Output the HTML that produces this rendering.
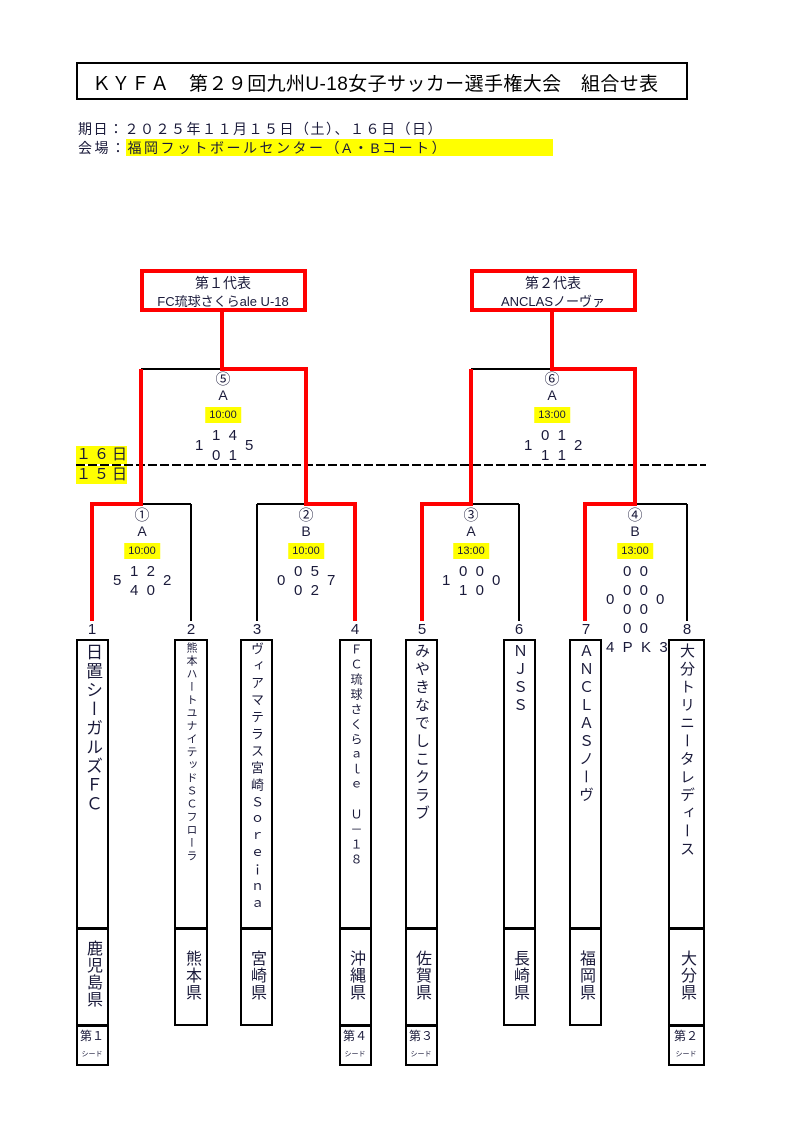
<!DOCTYPE html>
<html><head><meta charset="utf-8"><style>
body{margin:0;background:#fff;}
#p{position:relative;width:804px;height:1143px;overflow:hidden;font-family:"Liberation Sans","Noto Sans CJK JP",sans-serif;color:#1a1a3a;}
.a{position:absolute;white-space:nowrap;}
.c{position:absolute;transform:translateX(-50%);white-space:nowrap;text-align:center;}
.y{background:#ffff00;}
.v{position:absolute;writing-mode:vertical-rl;text-orientation:upright;white-space:nowrap;}
.box{position:absolute;border:2px solid #000;box-sizing:border-box;}
.t{font-size:11px;background:#ffff00;padding:2px 4px;}
.s{font-size:15px;}
</style></head><body><div id="p">
<svg width="804" height="1143" style="position:absolute;left:0;top:0">
<g stroke="#000" stroke-width="2" fill="none">
<line x1="141" y1="369" x2="222" y2="369"/>
<line x1="471" y1="369" x2="552" y2="369"/>
<line x1="141" y1="504" x2="191" y2="504"/><line x1="191" y1="504" x2="191" y2="621"/>
<line x1="257" y1="504" x2="306" y2="504"/><line x1="257" y1="504" x2="257" y2="621"/>
<line x1="471" y1="504" x2="519" y2="504"/><line x1="519" y1="504" x2="519" y2="621"/>
<line x1="635" y1="504" x2="687" y2="504"/><line x1="687" y1="504" x2="687" y2="621"/>
<line x1="76" y1="465" x2="706" y2="465" stroke-dasharray="9,3"/>
</g>
<g stroke="#ff0000" stroke-width="4" fill="none" stroke-linejoin="miter">
<rect x="142" y="271" width="163" height="39"/>
<rect x="472" y="271" width="163" height="39"/>
<polyline points="222,310 222,369 306,369 306,504 355,504 355,621"/>
<polyline points="141,369 141,504 92,504 92,621"/>
<polyline points="552,310 552,369 635,369 635,504 585,504 585,621"/>
<polyline points="471,369 471,504 422,504 422,621"/>
</g>
</svg>
<div class="box" style="left:76px;top:62px;width:612px;height:38px;border-width:2px"></div>
<div class="a" style="left:92px;top:69px;font-size:19px;color:#000;letter-spacing:0.4px">ＫＹＦＡ　第２９回九州U-18女子サッカー選手権大会　組合せ表</div>
<div class="a" style="left:78px;top:119px;font-size:14px;letter-spacing:1.5px">期日：２０２５年１１月１５日（土）、１６日（日）</div>
<div class="a y" style="left:126px;top:139px;width:427px;height:17px"></div>
<div class="a" style="left:78px;top:138px;font-size:14px;letter-spacing:2.5px">会場：福岡フットボールセンター（A・Bコート）</div>

<div class="c" style="left:223px;top:273px;font-size:14px">第１代表</div>
<div class="c" style="left:223px;top:291px;font-size:13px">FC琉球さくらale U-18</div>
<div class="c" style="left:553px;top:273px;font-size:14px">第２代表</div>
<div class="c" style="left:553px;top:291px;font-size:13px">ANCLASノーヴァ</div>

<div class="a y" style="left:76px;top:446px;width:51px;height:18px;font-size:15px;letter-spacing:3px;line-height:18px">１６日</div>
<div class="a y" style="left:76px;top:466px;width:51px;height:18px;font-size:15px;letter-spacing:3px;line-height:18px">１５日</div>

<div class="c" style="left:223px;top:368px;font-size:15px">⑤</div>
<div class="c" style="left:223px;top:387px;font-size:14px">A</div>
<div class="c t" style="left:223px;top:407px">10:00</div>
<div class="a s" style="left:212px;top:427px">1&nbsp;&nbsp;4</div>
<div class="a s" style="left:212px;top:447px">0&nbsp;&nbsp;1</div>
<div class="a s" style="left:195px;top:437px">1</div>
<div class="a s" style="left:245px;top:437px">5</div>

<div class="c" style="left:552px;top:368px;font-size:15px">⑥</div>
<div class="c" style="left:552px;top:387px;font-size:14px">A</div>
<div class="c t" style="left:552px;top:407px">13:00</div>
<div class="a s" style="left:541px;top:427px">0&nbsp;&nbsp;1</div>
<div class="a s" style="left:541px;top:447px">1&nbsp;&nbsp;1</div>
<div class="a s" style="left:524px;top:437px">1</div>
<div class="a s" style="left:574px;top:437px">2</div>

<div class="c" style="left:142px;top:504px;font-size:15px">①</div>
<div class="c" style="left:142px;top:523px;font-size:14px">A</div>
<div class="c t" style="left:142px;top:543px">10:00</div>
<div class="a s" style="left:130px;top:563px">1&nbsp;&nbsp;2</div>
<div class="a s" style="left:130px;top:582px">4&nbsp;&nbsp;0</div>
<div class="a s" style="left:113px;top:572px">5</div>
<div class="a s" style="left:163px;top:572px">2</div>

<div class="c" style="left:306px;top:504px;font-size:15px">②</div>
<div class="c" style="left:306px;top:523px;font-size:14px">B</div>
<div class="c t" style="left:306px;top:543px">10:00</div>
<div class="a s" style="left:294px;top:563px">0&nbsp;&nbsp;5</div>
<div class="a s" style="left:294px;top:582px">0&nbsp;&nbsp;2</div>
<div class="a s" style="left:277px;top:572px">0</div>
<div class="a s" style="left:327px;top:572px">7</div>

<div class="c" style="left:471px;top:504px;font-size:15px">③</div>
<div class="c" style="left:471px;top:523px;font-size:14px">A</div>
<div class="c t" style="left:471px;top:543px">13:00</div>
<div class="a s" style="left:459px;top:563px">0&nbsp;&nbsp;0</div>
<div class="a s" style="left:459px;top:582px">1&nbsp;&nbsp;0</div>
<div class="a s" style="left:442px;top:572px">1</div>
<div class="a s" style="left:492px;top:572px">0</div>

<div class="c" style="left:635px;top:504px;font-size:15px">④</div>
<div class="c" style="left:635px;top:523px;font-size:14px">B</div>
<div class="c t" style="left:635px;top:543px">13:00</div>
<div class="a s" style="left:623px;top:563px">0&nbsp;&nbsp;0</div>
<div class="a s" style="left:623px;top:582px">0&nbsp;&nbsp;0</div>
<div class="a s" style="left:623px;top:601px">0&nbsp;&nbsp;0</div>
<div class="a s" style="left:623px;top:620px">0&nbsp;&nbsp;0</div>
<div class="a s" style="left:606px;top:591px">0</div>
<div class="a s" style="left:656px;top:591px">0</div>
<div class="a s" style="left:606px;top:639px">4&nbsp;&nbsp;P&nbsp;&nbsp;K&nbsp;&nbsp;3</div>

<div class="c s" style="left:92px;top:621px">1</div>
<div class="c s" style="left:191px;top:621px">2</div>
<div class="c s" style="left:257px;top:621px">3</div>
<div class="c s" style="left:355px;top:621px">4</div>
<div class="c s" style="left:422px;top:621px">5</div>
<div class="c s" style="left:519px;top:621px">6</div>
<div class="c s" style="left:586px;top:621px">7</div>
<div class="c s" style="left:687px;top:621px">8</div>

<div class="box" style="left:76px;top:639px;width:33px;height:290px"></div>
<div class="box" style="left:76px;top:928px;width:33px;height:98px"></div>
<div class="box" style="left:76px;top:1025px;width:33px;height:41px"></div>
<div class="box" style="left:174px;top:639px;width:34px;height:290px"></div>
<div class="box" style="left:174px;top:928px;width:34px;height:98px"></div>
<div class="box" style="left:240px;top:639px;width:33px;height:290px"></div>
<div class="box" style="left:240px;top:928px;width:33px;height:98px"></div>
<div class="box" style="left:339px;top:639px;width:33px;height:290px"></div>
<div class="box" style="left:339px;top:928px;width:33px;height:98px"></div>
<div class="box" style="left:339px;top:1025px;width:33px;height:41px"></div>
<div class="box" style="left:405px;top:639px;width:33px;height:290px"></div>
<div class="box" style="left:405px;top:928px;width:33px;height:98px"></div>
<div class="box" style="left:405px;top:1025px;width:33px;height:41px"></div>
<div class="box" style="left:503px;top:639px;width:33px;height:290px"></div>
<div class="box" style="left:503px;top:928px;width:33px;height:98px"></div>
<div class="box" style="left:569px;top:639px;width:33px;height:290px"></div>
<div class="box" style="left:569px;top:928px;width:33px;height:98px"></div>
<div class="box" style="left:668px;top:639px;width:37px;height:290px"></div>
<div class="box" style="left:668px;top:928px;width:37px;height:98px"></div>
<div class="box" style="left:668px;top:1025px;width:37px;height:41px"></div>

<div class="v" style="left:76px;line-height:33px;top:643px;font-size:17px;letter-spacing:2px">日置シーガルズＦＣ</div>
<div class="v" style="left:174px;line-height:34px;top:642px;font-size:11px;letter-spacing:2px">熊本ハートユナイテッドＳＣフローラ</div>
<div class="v" style="left:240px;line-height:33px;top:642px;font-size:13px;letter-spacing:4px">ヴィアマテラス宮崎Ｓｏｒｅｉｎａ</div>
<div class="v" style="left:339px;line-height:33px;top:643px;font-size:12px;letter-spacing:3px">ＦＣ琉球さくらａｌｅ　Ｕ－１８</div>
<div class="v" style="left:405px;line-height:33px;top:643px;font-size:15px;letter-spacing:3px">みやきなでしこクラブ</div>
<div class="v" style="left:503px;line-height:33px;top:643px;font-size:15px;letter-spacing:3px">ＮＪＳＳ</div>
<div class="v" style="left:569px;line-height:33px;top:643px;font-size:15px;letter-spacing:3px">ＡＮＣＬＡＳノーヴ</div>
<div class="v" style="left:668px;line-height:37px;top:643px;font-size:15px;letter-spacing:3px">大分トリニータレディース</div>

<div class="v" style="left:76px;line-height:33px;top:940px;font-size:16px;letter-spacing:1px">鹿児島県</div>
<div class="v" style="left:174px;line-height:34px;top:950px;font-size:16px;letter-spacing:1px">熊本県</div>
<div class="v" style="left:240px;line-height:33px;top:950px;font-size:16px;letter-spacing:1px">宮崎県</div>
<div class="v" style="left:339px;line-height:33px;top:950px;font-size:16px;letter-spacing:1px">沖縄県</div>
<div class="v" style="left:405px;line-height:33px;top:950px;font-size:16px;letter-spacing:1px">佐賀県</div>
<div class="v" style="left:503px;line-height:33px;top:950px;font-size:16px;letter-spacing:1px">長崎県</div>
<div class="v" style="left:569px;line-height:33px;top:950px;font-size:16px;letter-spacing:1px">福岡県</div>
<div class="v" style="left:668px;line-height:37px;top:950px;font-size:16px;letter-spacing:1px">大分県</div>

<div class="c" style="left:92px;top:1027px;font-size:12px">第１</div>
<div class="c" style="left:92px;top:1049px;font-size:7px">シード</div>
<div class="c" style="left:355px;top:1027px;font-size:12px">第４</div>
<div class="c" style="left:355px;top:1049px;font-size:7px">シード</div>
<div class="c" style="left:421px;top:1027px;font-size:12px">第３</div>
<div class="c" style="left:421px;top:1049px;font-size:7px">シード</div>
<div class="c" style="left:686px;top:1027px;font-size:12px">第２</div>
<div class="c" style="left:686px;top:1049px;font-size:7px">シード</div>
</div></body></html>
